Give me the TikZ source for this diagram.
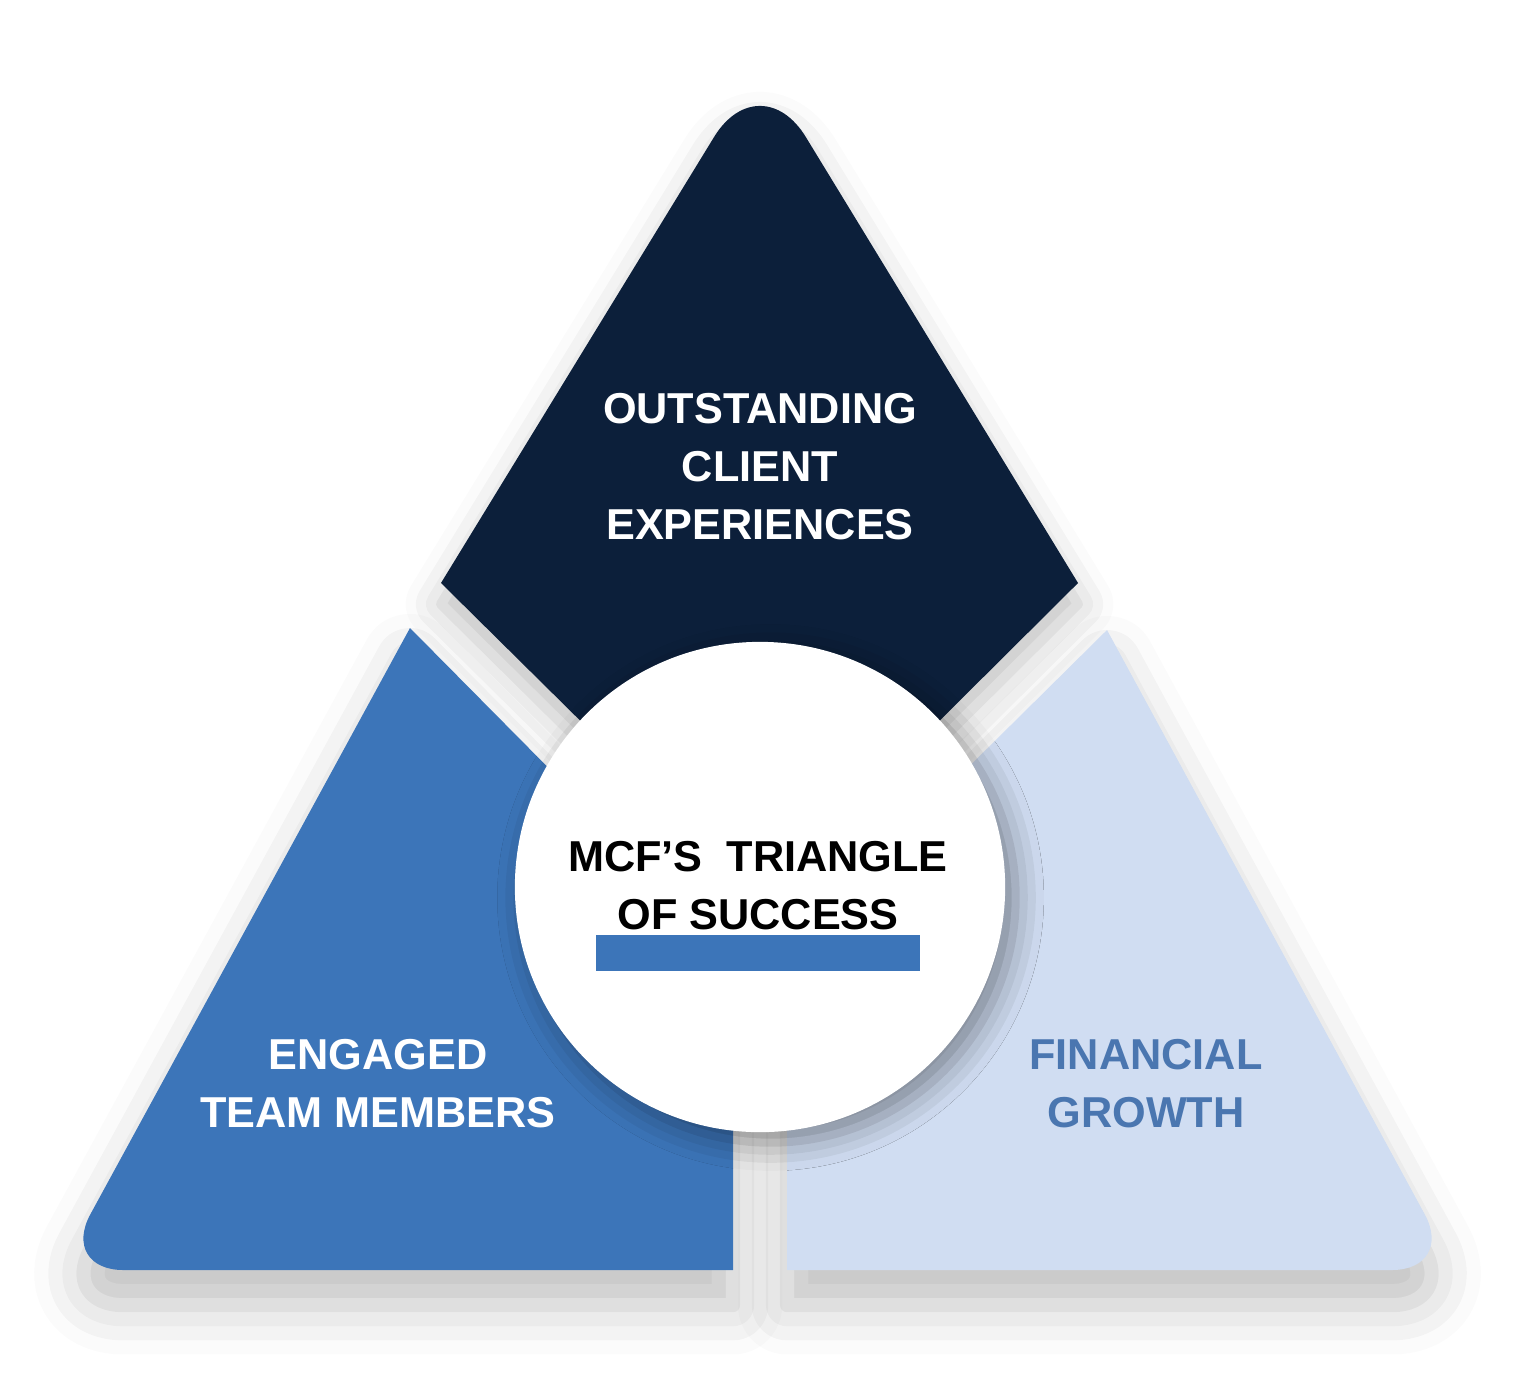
\documentclass[tikz,border=0pt]{standalone}
\usepackage{fontspec}
\setmainfont{Liberation Sans}
\usetikzlibrary{positioning,shadows.blur}
\definecolor{navy}{HTML}{0C1F3A}
\definecolor{midblue}{HTML}{3C75B9}
\definecolor{paleblue}{HTML}{D0DDF2}
\definecolor{textblue}{HTML}{4A76B0}
\begin{document}
\begin{tikzpicture}[x=0.01cm, y=-0.01cm]
    % Define styles
    \tikzset{piece/.style={draw=none},
             label/.style={font=\bfseries\fontsize{12.3}{16.5}\selectfont, align=center, inner sep=0pt}}
    \useasboundingbox (0,0) rectangle (1516,1391);

    % Pieces
    \fill[navy, blur shadow={shadow xshift=0pt, shadow yshift=-6pt, shadow blur radius=10pt, shadow opacity=25}]
        (441,583) [rounded corners=25pt] -- (760,62) [sharp corners] -- (1078,583) -- (900,760) -- (620,760) -- cycle;
    \fill[midblue, blur shadow={shadow xshift=0pt, shadow yshift=-10pt, shadow blur radius=14pt, shadow opacity=25}]
        (600,820) -- (410,628) [rounded corners=18pt] -- (60,1270) [sharp corners] -- (733,1270) -- (733,887) -- cycle;
    \fill[paleblue, blur shadow={shadow xshift=0pt, shadow yshift=-10pt, shadow blur radius=14pt, shadow opacity=25}]
        (920,815) -- (1107,630) [rounded corners=18pt] -- (1455,1270) [sharp corners] -- (787,1270) -- (787,887) -- cycle;

    % Centre circle
    \node (hub) [circle, fill=white, minimum size=4.9cm, inner sep=0pt,
        blur shadow={shadow xshift=3pt, shadow yshift=-3pt, shadow blur radius=8pt, shadow opacity=40}] at (760,887) {};

    % Labels
    \node (client) [label, text=white] at (760,467) {OUTSTANDING\\CLIENT\\EXPERIENCES};
    \node (team) [label, text=white] at (378,1084) {ENGAGED\\TEAM MEMBERS};
    \node (growth) [label, text=textblue] at (1146,1084) {FINANCIAL\\GROWTH};
    \node (title) [label, text=black] at (758,886) {MCF’S\ \ TRIANGLE\\OF SUCCESS};
    \coordinate (ulineL) at (596,953);
    \coordinate (ulineR) at (920,953);
    \draw[midblue, line width=5\pgflinewidth] (ulineL) -- (ulineR);
\end{tikzpicture}
\end{document}
